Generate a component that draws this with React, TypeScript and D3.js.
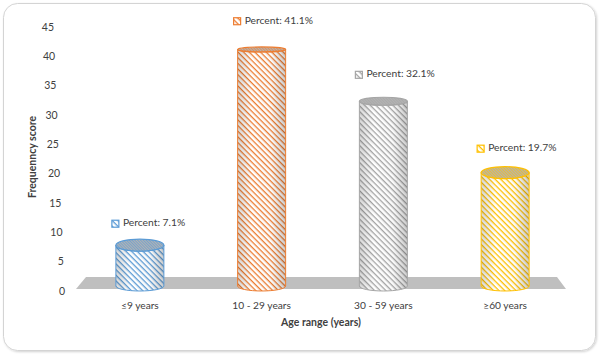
import React from "react";
import * as d3 from "d3";

// data
const categories = ["≤9 years", "10 - 29 years", "30 - 59 years", "≥60 years"];
const values = [7.1, 41.1, 32.1, 19.7];
const percentLabels = ["7.1%", "41.1%", "32.1%", "19.7%"];
const yTicks = [0, 5, 10, 15, 20, 25, 30, 35, 40, 45];
const colors = ["#5b9bd5", "#ed7d31", "#a5a5a5", "#ffc000"];

const W = 600;
const H = 354;
const FONT = "Lato, 'Open Sans', sans-serif";

const App = () => {
  const x = d3.scalePoint<string>().domain(categories).range([79, 566]).padding(0.5);
  // bar tops (centre of top ellipse)
  const yBar = d3.scaleLinear().domain([0, 45]).range([286, 27]);
  // tick labels sit on the back wall, slightly shifted
  const yTick = d3.scaleLinear().domain([0, 45]).range([292, 28]);
  const xTick = d3.scaleLinear().domain([0, 45]).range([65, 54]);
  const yLabel = d3.scaleLinear().domain([0, 45]).range([266, -2]);
  const topRy = d3.scaleLinear().domain([20, 41.1]).range([6, 2.5]).clamp(true);

  const rx = 24;
  const bottomRy = 5;
  const baseY = yBar(0);

  const floor = d3.line()([
    [86, 277],
    [557, 277],
    [566, 289],
    [76, 289],
  ]) + "Z";

  return (
    <svg
      width={W}
      height={H}
      style={{ position: "absolute", left: 0, top: 0, background: "#fff" }}
      fontFamily={FONT}
    >
      <defs>
        <filter id="sh" x="-5%" y="-5%" width="110%" height="110%">
          <feDropShadow dx="1" dy="1" stdDeviation="1.2" floodColor="#000" floodOpacity="0.18" />
        </filter>
        <linearGradient id="shade" x1="0" x2="1" y1="0" y2="0">
          <stop offset="0" stopColor="#000" stopOpacity="0.16" />
          <stop offset="0.3" stopColor="#000" stopOpacity="0" />
          <stop offset="0.7" stopColor="#000" stopOpacity="0.02" />
          <stop offset="1" stopColor="#000" stopOpacity="0.2" />
        </linearGradient>
        {colors.map((c, i) => (
          <React.Fragment key={i}>
            <pattern
              id={`hatch${i}`}
              width="4"
              height="4"
              patternUnits="userSpaceOnUse"
              patternTransform="rotate(45)"
            >
              <rect width="4" height="4" fill="#fff" />
              <rect width="4" height="1.3" fill={c} />
            </pattern>
            <pattern
              id={`top${i}`}
              width="2"
              height="2"
              patternUnits="userSpaceOnUse"
              patternTransform="rotate(45)"
            >
              <rect width="2" height="2" fill="#b3b3b3" />
              <rect width="2" height="0.9" fill={c} opacity="0.75" />
            </pattern>
          </React.Fragment>
        ))}
      </defs>

      {/* frame */}
      <rect
        x={3.5}
        y={3.5}
        width={592}
        height={347}
        rx={14}
        fill="#fff"
        stroke="#d4d4d4"
        strokeWidth={1}
        filter="url(#sh)"
      />

      {/* floor */}
      <path d={floor} fill="#bfbfbf" />

      {/* y tick labels */}
      {yTicks.map((t) => (
        <text
          key={t}
          x={xTick(t)}
          y={yTick(t)}
          textAnchor="end"
          dominantBaseline="middle"
          fontSize={10.5}
          fill="#404040"
        >
          {t}
        </text>
      ))}

      {/* cylinders */}
      {categories.map((c, i) => {
        const cx = x(c)!;
        const ty = yBar(values[i]);
        const ry = topRy(values[i]);
        const body = `M${cx - rx},${ty} L${cx - rx},${baseY} A${rx},${bottomRy} 0 0 0 ${cx + rx},${baseY} L${cx + rx},${ty} A${rx},${ry} 0 0 1 ${cx - rx},${ty} Z`;
        return (
          <g key={c}>
            <path d={body} fill={`url(#hatch${i})`} />
            <path d={body} fill="url(#shade)" stroke={colors[i]} strokeWidth={1} />
            <ellipse
              cx={cx}
              cy={ty}
              rx={rx}
              ry={ry}
              fill={`url(#top${i})`}
              stroke={colors[i]}
              strokeWidth={1.2}
            />
          </g>
        );
      })}

      {/* data labels */}
      {categories.map((c, i) => {
        const kx = x(c)! - rx - 4;
        const ly = yLabel(values[i]);
        return (
          <g key={c}>
            <rect x={kx} y={ly - 3.5} width={7} height={7} fill={`url(#hatch${i})`} stroke={colors[i]} strokeWidth={1.2} />
            <text x={kx + 11} y={ly} dominantBaseline="middle" fontSize={10.3} fill="#404040">
              {`Percent: ${percentLabels[i]}`}
            </text>
          </g>
        );
      })}

      {/* category labels */}
      {categories.map((c) => (
        <text
          key={c}
          x={x(c)!}
          y={306}
          textAnchor="middle"
          dominantBaseline="middle"
          fontSize={10.2}
          fill="#404040"
        >
          {c}
        </text>
      ))}

      {/* axis titles */}
      <text x={321} y={323} textAnchor="middle" dominantBaseline="middle" fontSize={10.5} fontWeight="bold" fill="#404040">
        Age range (years)
      </text>
      <text
        transform="translate(33,157) rotate(-90)"
        textAnchor="middle"
        dominantBaseline="middle"
        fontSize={10.5}
        fontWeight="bold"
        fill="#404040"
      >
        Frequenncy score
      </text>
    </svg>
  );
};

export default App;
